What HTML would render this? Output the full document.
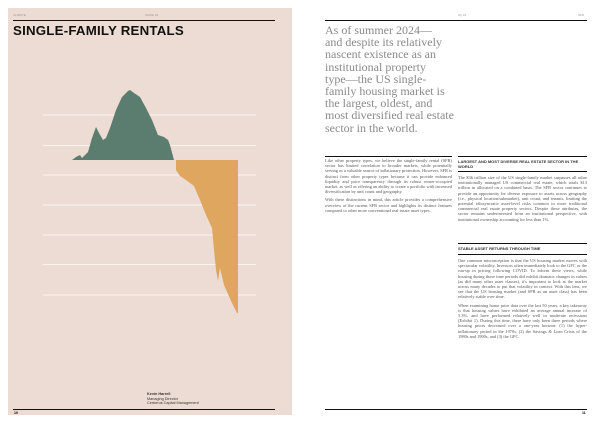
<!DOCTYPE html>
<html><head><meta charset="utf-8"><style>
*{margin:0;padding:0;box-sizing:border-box}
body{width:600px;height:423px;background:#fff;position:relative;overflow:hidden;font-family:"Liberation Sans",sans-serif}
.a{position:absolute}
.rule{position:absolute;background:#111;height:1px}
.tiny{font-family:"Liberation Serif",serif;font-size:4.4px;line-height:5.2px;color:#555;text-align:justify}
.hd{font-family:"Liberation Sans",sans-serif;font-size:4px;line-height:4.8px;font-weight:bold;color:#333}
</style></head><body>
<div class="a" style="left:8px;top:8px;width:284px;height:407px;background:#eddcd3"></div>
<div class="a" style="left:13px;top:13px;font-size:3px;color:#999">CLIMATE</div>
<div class="a" style="left:145px;top:13px;font-size:3px;color:#999">ISSUE 10</div>
<div class="rule" style="left:13px;top:20px;width:262px"></div>
<div class="a" style="left:13px;top:23px;font-size:13.3px;font-weight:bold;color:#111;letter-spacing:0.2px">SINGLE-FAMILY RENTALS</div>
<svg class="a" style="left:0;top:0" width="300" height="423">
<g stroke="#fbf5f0" stroke-width="1">
<line x1="43" y1="115" x2="256" y2="115"/><line x1="43" y1="145.5" x2="256" y2="145.5"/>
<line x1="43" y1="175" x2="256" y2="175"/><line x1="43" y1="205" x2="256" y2="205"/>
<line x1="43" y1="235" x2="256" y2="235"/><line x1="43" y1="264.5" x2="256" y2="264.5"/>
<line x1="43" y1="295" x2="256" y2="295"/></g>
<path fill="#5a7d70" d="M72,160 L76,157 L80,155 L82,158 L88,152 L92,138 L96,127 L99,133 L103,140 L106,138 L110,128 L116,110 L122,97 L128,91 L130,90 L134,93 L140,97 L146,108 L152,120 L158,135 L164,137 L168,140 L170,145 L174,160 Z"/>
<path fill="#dfa660" d="M176,160 L176,170 L180,176 L186,180 L190,183 L194,186 L200,200 L206,215 L212,228 L214,250 L216,270 L218,281 L220,268 L224,285 L232,303 L237,313 L238,313 L238,160 Z"/>
</svg>
<div class="a" style="left:147px;top:392px;font-size:3.8px;line-height:4.6px;color:#333"><b>Kevin Harrell</b><br>Managing Director<br>Cerberus Capital Management</div>
<div class="rule" style="left:13px;top:409px;width:262px"></div>
<div class="a" style="left:14px;top:411px;font-size:3.5px;font-weight:bold">10</div>

<div class="a" style="left:458px;top:13px;font-size:3px;color:#999">2Q 24</div>
<div class="a" style="left:578px;top:13px;font-size:3px;color:#999">SFR</div>
<div class="rule" style="left:325px;top:20px;width:262px"></div>
<div class="a" style="left:325px;top:24px;width:140px;font-family:'Liberation Serif',serif;font-size:12px;line-height:12.2px;color:#8a8a8a">As of summer 2024—<br>and despite its relatively<br>nascent existence as an<br>institutional property<br>type—the US single-<br>family housing market is<br>the largest, oldest, and<br>most diversified real estate<br>sector in the world.</div>
<div class="rule" style="left:325px;top:156px;width:127px"></div>
<div class="rule" style="left:458px;top:156px;width:129px"></div>
<div class="a tiny" style="left:325px;top:158px;width:127px">Like other property types, we believe the single-family rental (SFR) sector has limited correlation to broader markets, while potentially serving as a valuable source of inflationary protection. However, SFR is distinct from other property types because it can provide enhanced liquidity and price transparency through its robust owner-occupied market, as well as offering an ability to create a portfolio with increased diversification by unit count and geography.<br><span style="display:block;height:3px"></span>With these distinctions in mind, this article provides a comprehensive overview of the current SFR sector and highlights its distinct features compared to other more conventional real estate asset types.</div>
<div class="a hd" style="left:458px;top:160px;width:129px">LARGEST AND MOST DIVERSE REAL ESTATE SECTOR IN THE WORLD</div>
<div class="rule" style="left:458px;top:171px;width:129px"></div>
<div class="a tiny" style="left:458px;top:175px;width:129px">The $36 trillion size of the US single-family market surpasses all other institutionally managed US commercial real estate, which totals $13 trillion in allocated on a combined basis. The SFR sector continues to provide an opportunity for diverse exposure to assets across geography (i.e., physical location/submarket), unit count, and tenants, limiting the potential idiosyncratic asset-level risks common in more traditional commercial real estate property sectors. Despite these attributes, the sector remains underinvested from an institutional perspective, with institutional ownership accounting for less than 1%.</div>
<div class="rule" style="left:458px;top:243px;width:129px"></div>
<div class="a hd" style="left:458px;top:247px;width:129px">STABLE ASSET RETURNS THROUGH TIME</div>
<div class="rule" style="left:458px;top:254px;width:129px"></div>
<div class="a tiny" style="left:458px;top:258px;width:129px">One common misconception is that the US housing market moves with spectacular volatility. Investors often immediately look to the GFC or the run-up in pricing following COVID. To inform these views, while housing during those time periods did exhibit dramatic changes in values (as did many other asset classes), it's important to look at the market across many decades to put that volatility in context. With this lens, we see that the US housing market (and SFR as an asset class) has been relatively stable over time.<br><span style="display:block;height:3px"></span>When examining home price data over the last 50 years, a key takeaway is that housing values have exhibited an average annual increase of 5.3%, and have performed relatively well in moderate recessions (Exhibit 1). During this time, there have only been three periods where housing prices decreased over a one-year horizon: (1) the hyper-inflationary period in the 1970s, (2) the Savings &amp; Loan Crisis of the 1980s and 1990s, and (3) the GFC.</div>
<div class="rule" style="left:325px;top:409px;width:262px"></div>
<div class="a" style="left:582px;top:411px;font-size:3.5px;font-weight:bold">11</div>
</body></html>
